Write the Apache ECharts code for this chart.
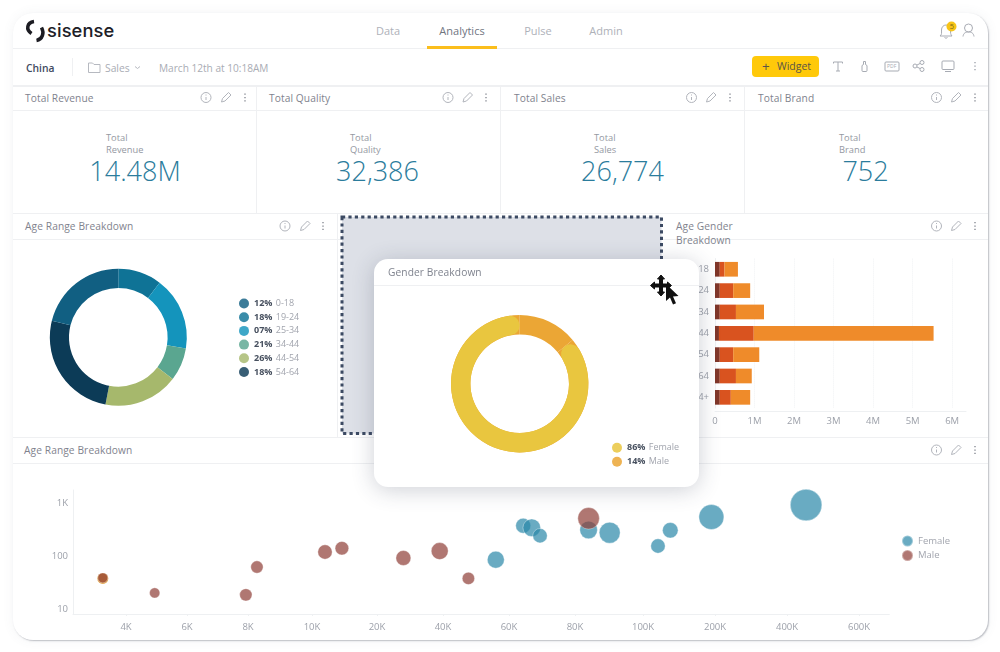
<!DOCTYPE html>
<html>
<head>
<meta charset="utf-8">
<title>Sisense dashboard</title>
<script src="https://cdn.jsdelivr.net/npm/echarts@6/dist/echarts.min.js"></script>
<style>
html,body{margin:0;padding:0;background:#fff;width:1000px;height:652px;overflow:hidden;font-family:"Open Sans",sans-serif}
#card{position:absolute;left:13px;top:13px;width:975px;height:627px;background:#fff;border-radius:20px;box-shadow:1px 1px 1.500px rgba(90,95,110,.38),0 0 12px rgba(90,95,110,.07)}
.a{position:absolute;white-space:nowrap;line-height:1}
.l{position:absolute;background:#eff0f2}
.c{position:absolute}
.title{font-size:10.200px;color:#7f838e;letter-spacing:.1px}
.nav{font-size:11px;color:#aeb1b9;transform:translate(-50%,-50%)}
.small{font-size:9.300px;color:#9498a2;line-height:12.200px}
.big{font-size:27px;font-weight:300;color:#2b7c9c;transform:translateX(-50%)}
#float{position:absolute;left:374px;top:259px;width:325px;height:228px;background:#fff;border-radius:14px;box-shadow:0 3px 22px rgba(50,60,85,.24)}
svg{position:absolute;overflow:visible}
</style>
</head>
<body>
<div id="card"></div>
<div id="chrome"></div>
<div id="m1" class="c" style="left:13px;top:240px;width:323px;height:196px"></div>
<div id="m3" class="c" style="left:660px;top:240px;width:328px;height:196px"></div>
<div id="m4" class="c" style="left:13px;top:463px;width:975px;height:177px"></div>
<svg style="left:0;top:0" width="1000" height="652">
  <rect x="342" y="217" width="319.500" height="216.500" fill="#dde0e7" stroke="#3c4a63" stroke-width="3" stroke-dasharray="3.200 3.200"/>
</svg>
<div id="float">
  <div class="a title" style="left:14px;top:8px">Gender Breakdown</div>
  <div class="l" style="left:0;top:26px;width:325px;height:1px"></div>
  <div id="m2" class="c" style="left:0;top:27px;width:325px;height:200px"></div>
</div>
<svg style="left:0;top:0" width="1000" height="652">
  <path d="M661 275l3.500 4h-2v5h5v-2l4 3.500-4 3.500v-2h-5v5h2l-3.500 4-3.500-4h2v-5h-5v2l-4-3.500 4-3.500v2h5v-5h-2z" fill="#111" stroke="#111" stroke-width="1"/>
  <path d="M666 284l0 17 4-3.500 3 7 3-1.300-3-6.700 5.500-.5z" fill="#111"/>
</svg>
<script>
// top row numbers
var kpiNames = ['Revenue', 'Quality', 'Sales', 'Brand'];
var kpiValues = ['14.48M', '32,386', '26,774', '752'];

// age range donut, clockwise from 12 o'clock
var ageSlices = ['19-24', '25-34', '34-44', '44-54', '54-64', '0-18'];
var ageSliceValues = [10.3, 17.3, 7.8, 17.6, 25.9, 21.1];
var ageColors = ['#0f7396', '#1494bc', '#5aa690', '#a6b86c', '#0c3b57', '#115f82'];
var ageLegend = ['0-18', '19-24', '25-34', '34-44', '44-54', '54-64'];
var ageLegendPct = ['12%', '18%', '07%', '21%', '26%', '18%'];

// gender donut
var genderNames = ['Male', 'Female'];
var genderValues = [14, 86];

// age gender bars, millions
var barAges = ['0-18', '19-24', '25-34', '35-44', '45-54', '55-64', '64+'];
var barDark = [0.12, 0.12, 0.12, 0.10, 0.12, 0.12, 0.12];
var barRed = [0.12, 0.34, 0.41, 0.88, 0.34, 0.41, 0.28];
var barOrange = [0.34, 0.43, 0.71, 4.55, 0.66, 0.40, 0.49];
var barTicks = [0, 1, 2, 3, 4, 5, 6];

// bubbles: thousands, value, size
var xTicks = [4, 6, 8, 10, 20, 40, 60, 80, 100, 200, 400, 600];
var yTicks = [10, 100, 1000];
var femaleX = [56, 64.3, 66.9, 69.4, 84, 90.2, 120.8, 137.9, 195, 453];
var femaleY = [106, 464, 425, 300, 385, 342, 192, 380, 676, 1140];
var femaleSize = [256, 196, 276, 180, 276, 400, 180, 213, 576, 936];
var maleX = [3.24, 4.94, 7.93, 8.28, 12, 14.6, 28, 39, 47.7, 84];
var maleY = [48, 25, 23, 77, 148, 174, 114, 154, 47, 640];
var maleSize = [81, 88, 130, 130, 180, 160, 196, 256, 130, 424];
var otherX = [3.24];
var otherY = [47];
var otherSize = [100];

var FONT = '"Open Sans",sans-serif';

// the reference x axis is not a true log axis, its ticks sit at these steps
var xStops = [0, 61, 122, 186, 251, 317, 383, 449, 517, 589, 661, 733];

function xToAxis(v) {
  var i = 0;
  while (i < xTicks.length - 2 && v > xTicks[i + 1]) i++;
  return xStops[i] + (v - xTicks[i]) / (xTicks[i + 1] - xTicks[i]) * (xStops[i + 1] - xStops[i]);
}

function bubbles(xs, ys, sizes) {
  return xs.map(function (x, i) { return [xToAxis(x), ys[i], sizes[i]]; });
}

// ---- chrome ----
var html = '';
function text(cls, x, y, s, extra) {
  html += '<div class="a ' + cls + '" style="left:' + x + 'px;top:' + y + 'px;' + (extra || '') + '">' + s + '</div>';
}
function line(x, y, w, h, col) {
  html += '<div class="l" style="left:' + x + 'px;top:' + y + 'px;width:' + w + 'px;height:' + h + 'px;' + (col ? 'background:' + col : '') + '"></div>';
}
function icons(y, xs) {
  var col = '#b2b5bc';
  html += '<svg style="left:0;top:0" width="1000" height="652" fill="none" stroke="' + col + '" stroke-width="1">' +
    '<circle cx="' + xs[0] + '" cy="' + y + '" r="5"/><path d="M' + xs[0] + ' ' + (y - 0.5) + 'v3M' + xs[0] + ' ' + (y - 3) + 'v1"/>' +
    '<path d="M' + (xs[1] - 4.500) + ' ' + (y + 4.500) + 'l1-3.500 6-6 2.500 2.500-6 6z"/>' +
    '<path d="M' + xs[2] + ' ' + (y - 4) + 'v1.300M' + xs[2] + ' ' + (y - 0.6) + 'v1.300M' + xs[2] + ' ' + (y + 2.8) + 'v1.300" stroke-width="1.500" stroke="#8f929b"/>' +
    '</svg>';
}

// nav
html += '<svg style="left:0;top:0" width="100" height="60" fill="none" stroke="#1c1c22" stroke-width="3.500" stroke-linecap="butt">' +
  '<path d="M34 21.500C27 22.500 25.500 29.500 31.500 33.500"/>' +
  '<path d="M41.500 27.500C44.500 33 42.500 39.500 36.500 40.500"/></svg>';
text('', 47, 20.500, 'sisense', 'font-size:18.300px;font-weight:500;color:#202027;font-family:Inter,sans-serif;letter-spacing:.1px');
text('nav', 388, 30, 'Data');
text('nav', 462, 30, 'Analytics', 'color:#70757f');
text('nav', 538, 30, 'Pulse');
text('nav', 606, 30, 'Admin');
line(13, 48, 975, 1);
line(427, 46, 70, 2.500, '#fbbe1c');

// bell + user
html += '<svg style="left:0;top:0" width="1000" height="60" fill="none" stroke="#a9acb4" stroke-width="1">' +
  '<path d="M940 36c2-1.500 1.500-3 1.500-6 0-3 2-5 4.500-5s4.500 2 4.500 5c0 3 0 4.500 1.500 6z"/><path d="M944.500 37.500q1.500 1.500 3 0"/>' +
  '<circle cx="968.500" cy="28" r="4"/><path d="M963 36.500c.5-3.500 2.500-4.500 5.500-4.500s5 1 5.500 4.500"/>' +
  '<circle cx="951.500" cy="26.500" r="5" fill="#f7c417" stroke="none"/></svg>';
text('', 949.700, 22.800, '5', 'font-size:7.500px;color:#7d6a1a');

// second row
text('', 26, 63, 'China', 'font-size:10.300px;font-weight:600;color:#3f4a5f');
line(71.500, 58, 1, 18);
html += '<svg style="left:0;top:0" width="200" height="85" fill="none" stroke="#b6b9c0" stroke-width="1">' +
  '<path d="M88.500 63h4l1.500 1.500h6v8h-11.500z"/><path d="M135 66.500l2.500 2 2.500-2"/></svg>';
text('', 105, 63, 'Sales', 'font-size:10.300px;color:#a9acb4');
text('', 159, 63, 'March 12th at 10:18AM', 'font-size:10.100px;color:#a9acb4');
html += '<div class="a" style="left:752px;top:56px;width:67px;height:21px;background:#ffc90a;border-radius:4px"></div>';
text('', 762, 60, '+', 'font-size:13.500px;color:#5a5547');
text('', 777, 61, 'Widget', 'font-size:10.500px;color:#5a5547');
html += '<svg style="left:0;top:0" width="1000" height="85" fill="none" stroke="#a7abb3" stroke-width="1">' +
  '<path d="M833.500 63.500v-1.500h9v1.500M838 62v9M836 71h4"/>' +
  '<path d="M862 70.500v-5l1.500-1v-3h2v3l1.500 1v5q0 1-1 1h-3q-1 0-1-1z"/>' +
  '<rect x="885" y="62" width="14" height="9" rx="1"/>' +
  '<circle cx="915" cy="66" r="2"/><circle cx="922" cy="62.500" r="2"/><circle cx="922" cy="69.500" r="2"/><path d="M917 65l3-1.500M917 67l3 1.500"/>' +
  '<rect x="942" y="61" width="12" height="8.500" rx="1"/><path d="M945 71.500h6"/>' +
  '<path d="M975 62v1.300M975 65.500v1.300M975 69v1.300" stroke-width="1.500"/></svg>';
text('', 887, 64.200, 'PDF', 'font-size:5px;color:#a7abb3');

// kpi row
line(13, 85, 975, 1.500);
line(13, 110, 975, 1);
line(13, 212.500, 975, 1.500);
line(255.500, 85, 1, 128);
line(500, 85, 1, 128);
line(744, 85, 1, 128);
var kpiTitleX = [25, 269, 514, 758];
var kpiLabelX = [106, 350, 594, 839];
var kpiBigX = [135, 377.500, 622.500, 865.500];
var kpiIconX = [[206, 226, 245], [448, 467.500, 486], [691.500, 711, 730], [936.500, 956, 975]];
kpiNames.forEach(function (n, i) {
  text('title', kpiTitleX[i], 92.500, 'Total ' + n);
  html += '<div class="a small" style="left:' + kpiLabelX[i] + 'px;top:131.500px">Total<br>' + n + '</div>';
  text('big', kpiBigX[i], 156.500, kpiValues[i]);
  icons(97.500, kpiIconX[i]);
});

// second row of panels
line(13, 239, 975, 1);
line(336.500, 213, 1, 224);
text('title', 25, 220.500, 'Age Range Breakdown');
icons(226, [285, 305, 323]);
html += '<div class="a title" style="left:676px;top:219px;line-height:14px">Age Gender<br>Breakdown</div>';
icons(226, [936.500, 956, 975]);

// bottom panel
line(13, 436.500, 975, 1);
line(13, 462.500, 975, 1);
text('title', 24, 444.500, 'Age Range Breakdown');
icons(450, [936.500, 956, 975]);

document.getElementById('chrome').innerHTML = html;

// ---- charts ----
function legendFormatter(names, pcts) {
  return function (name) {
    return '{b|' + pcts[names.indexOf(name)] + '} {t|' + name + '}';
  };
}
var legendRich = {
  b: { fontFamily: FONT, fontSize: 9, fontWeight: 700, color: '#47505f', lineHeight: 10 },
  t: { fontFamily: FONT, fontSize: 9, color: '#a2a5ae', lineHeight: 10 }
};

function initAge() {
  var myChart = echarts.init(document.getElementById('m1'));
  var option = {
    animation: false,
    legend: {
      left: 226, top: 57.5, padding: 0, orient: 'vertical', icon: 'circle',
      itemWidth: 10, itemHeight: 10, itemGap: 1.7,
      data: ageLegend.map(function (n) {
        return { name: n, itemStyle: { opacity: 0.82 } };
      }),
      formatter: legendFormatter(ageLegend, ageLegendPct),
      textStyle: { rich: legendRich }
    },
    series: [{
      type: 'pie', center: [105.3, 97.3], radius: [49.3, 68.5], startAngle: 90,
      label: { show: false }, silent: true,
      data: ageSlices.map(function (n, i) {
        return { name: n, value: ageSliceValues[i], itemStyle: { color: ageColors[i] } };
      })
    }]
  };
  myChart.setOption(option);
}

function initGender() {
  var myChart = echarts.init(document.getElementById('m2'));
  var pct = genderValues.map(function (v) { return v + '%'; });
  var option = {
    animation: false,
    legend: {
      left: 238, top: 155.7, padding: 0, orient: 'vertical', icon: 'circle',
      itemWidth: 10, itemHeight: 10, itemGap: 2,
      data: [{ name: 'Female', itemStyle: { color: '#e9c63f', opacity: 0.85 } }, { name: 'Male', itemStyle: { color: '#eba635', opacity: 0.85 } }],
      formatter: legendFormatter(genderNames, pct),
      textStyle: { rich: legendRich }
    },
    series: [{
      type: 'pie', center: [145.7, 97.7], radius: [49.3, 68.7], startAngle: 90,
      label: { show: false }, silent: true,
      data: genderNames.map(function (n, i) {
        return { name: n, value: genderValues[i], itemStyle: { color: '#eba635' } };
      })
    }, {
      type: 'pie', center: [145.7, 97.7], radius: [49.3, 68.7], startAngle: 90,
      label: { show: false }, silent: true,
      data: genderNames.map(function (n, i) {
        return { name: n, value: genderValues[i], itemStyle: { color: n === 'Female' ? '#e9c63f' : 'transparent', borderRadius: 10 } };
      })
    }]
  };
  myChart.setOption(option);
}

function initBar() {
  var myChart = echarts.init(document.getElementById('m3'));
  var option = {
    animation: false,
    grid: { left: 55, top: 18.6, width: 251, height: 149.4 },
    xAxis: {
      type: 'value', min: 0, max: 6.35, offset: 3,
      axisLine: { show: true, lineStyle: { color: '#eef0f2' } },
      axisTick: { show: false, customValues: barTicks },
      axisLabel: {
        customValues: barTicks, color: '#9da1aa', fontFamily: FONT, fontSize: 9.5, margin: 5,
        formatter: function (v) { return v === 0 ? '0' : v + 'M'; }
      },
      splitLine: { show: true, lineStyle: { color: '#f1f2f4', type: 'dotted' } }
    },
    yAxis: {
      type: 'category', inverse: true, data: barAges,
      axisLine: { show: true, lineStyle: { color: '#eef0f2' } },
      axisTick: { show: false },
      axisLabel: { color: '#9da1aa', fontFamily: FONT, fontSize: 9.5, margin: 6 }
    },
    series: [
      { name: 'Dark', type: 'bar', stack: 'a', barWidth: 14.7, data: barDark, itemStyle: { color: '#80372a' } },
      { name: 'Red', type: 'bar', stack: 'a', data: barRed, itemStyle: { color: '#d9531f' } },
      { name: 'Orange', type: 'bar', stack: 'a', data: barOrange, itemStyle: { color: '#ef8b2a' } }
    ]
  };
  myChart.setOption(option);
}

function initBubble() {
  var myChart = echarts.init(document.getElementById('m4'));
  var size = function (d) { return Math.sqrt(d[2]) + 1; };
  var halo = 'rgba(255,255,255,.5)';
  var option = {
    animation: false,
    legend: {
      left: 888, top: 71.5, padding: 0, orient: 'vertical', icon: 'circle',
      itemWidth: 11, itemHeight: 11, itemGap: 1.5,
      data: ['Female', 'Male'],
      textStyle: { color: '#a2a5ae', fontFamily: FONT, fontSize: 9.5 }
    },
    grid: { left: 60, top: 27, width: 816.3, height: 124 },
    xAxis: {
      type: 'value', min: -53, max: 763.3,
      axisLine: { show: true, onZero: false, lineStyle: { color: '#eef0f2' } },
      axisTick: { show: true, length: 2, customValues: xStops, lineStyle: { color: '#eef0f2' } },
      axisLabel: {
        customValues: xStops, color: '#9da1aa', fontFamily: FONT, fontSize: 9.5, margin: 8,
        formatter: function (v) { return xTicks[xStops.indexOf(v)] + 'K'; }
      },
      splitLine: { show: false }
    },
    yAxis: {
      type: 'log', logBase: 10, min: 10, max: 2188,
      axisLine: { show: true, onZero: false, lineStyle: { color: '#eef0f2' } },
      axisTick: { show: false },
      axisLabel: {
        color: '#9da1aa', fontFamily: FONT, fontSize: 9.5, margin: 5, verticalAlign: 'bottom',
        formatter: function (v) {
          if (yTicks.indexOf(Math.round(v)) < 0) return '';
          return v >= 1000 ? (v / 1000) + 'K' : String(Math.round(v));
        }
      },
      splitLine: { show: false }
    },
    series: [
      { name: 'Other', type: 'scatter', data: bubbles(otherX, otherY, otherSize), symbolSize: size, itemStyle: { color: '#d98a12' } },
      { name: 'Female', type: 'scatter', data: bubbles(femaleX, femaleY, femaleSize), symbolSize: size, itemStyle: { color: '#2a87a8', opacity: 0.7, borderColor: halo, borderWidth: 1 } },
      { name: 'Male', type: 'scatter', data: bubbles(maleX, maleY, maleSize), symbolSize: size, itemStyle: { color: '#8f3d36', opacity: 0.7, borderColor: halo, borderWidth: 1 } }
    ]
  };
  myChart.setOption(option);
}

initAge();
initGender();
initBar();
initBubble();
</script>
</body>
</html>
